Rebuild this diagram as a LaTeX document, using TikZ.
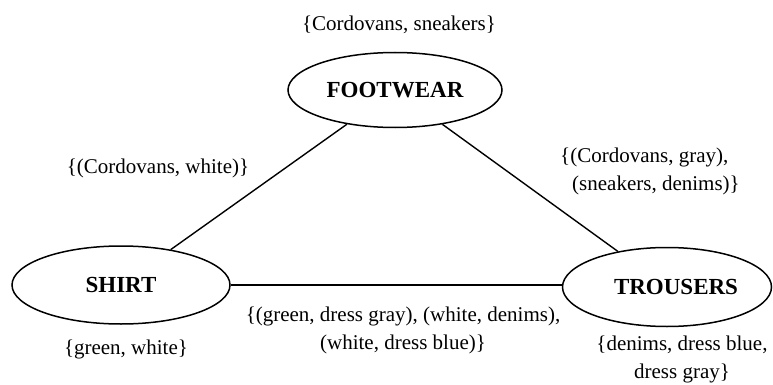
\documentclass[tikz,border=0pt]{standalone}
\usepackage{fontspec}
\setmainfont{Liberation Serif}
\usepackage{tikz}
\usetikzlibrary{shapes}

\tikzset{
  attr/.style={draw, ellipse, line width=1.5pt, inner sep=0pt,
    font=\fontsize{23}{28}\selectfont\bfseries},
  dom/.style={font=\fontsize{21}{28}\selectfont, align=center, inner sep=0pt},
  arc/.style={line width=1.4pt}
}

\begin{document}
\begin{tikzpicture}[x=1pt,y=-1pt]
\useasboundingbox (0,0) rectangle (773,385);

% variables
\node[attr,minimum width=214pt,minimum height=75pt] (footwear) at (395,90) {FOOTWEAR};
\node[attr,minimum width=218pt,minimum height=78pt] (shirt) at (121,285) {SHIRT};
\node[attr,minimum width=209pt,minimum height=79pt] (trousers) at (667,287) {\hspace{18pt}TROUSERS};

% domains
\node[dom] (domfootwear) at (399,25) {\{Cordovans, sneakers\}};
\node[dom] (domshirt) at (126,349) {\{green, white\}};
\node[dom] (domtrousers) at (682,359) {\{denims, dress blue,\\dress gray\}};

% constraints
\draw[arc] (footwear) -- (shirt);
\draw[arc] (footwear) -- (trousers);
\draw[arc] (shirt.east) -- (shirt.east -| trousers.west);

\node[dom] (consfs) at (158,168) {\{(Cordovans, white)\}};
\node[dom,align=left] (consft) at (650,171) {\{(Cordovans, gray),\\\hspace{12pt}(sneakers, denims)\}};
\node[dom] (consst) at (403,330) {\{(green, dress gray), (white, denims),\\(white, dress blue)\}};

\end{tikzpicture}
\end{document}
